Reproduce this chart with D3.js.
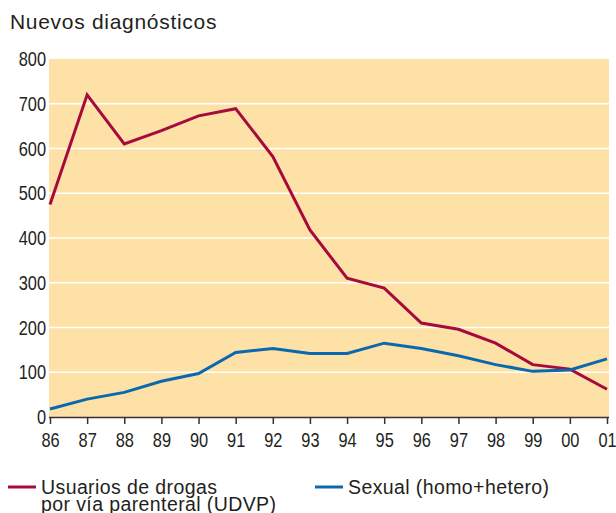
<!DOCTYPE html>
<html>
<head>
<meta charset="utf-8">
<script src="https://cdn.jsdelivr.net/npm/d3@7"></script>
<style>
  body { margin: 0; background: #fff; }
  svg { display: block; }
  text { fill: #231f20; }
</style>
</head>
<body>
<svg id="chart" width="616" height="513"></svg>
<script>
// years on the x axis
const years = ['86','87','88','89','90','91','92','93','94','95','96','97','98','99','00','01'];

// new diagnoses per transmission group
const udvp = [475, 720, 610, 640, 673, 689, 582, 418, 310, 288, 210, 196, 165, 117, 107, 62];
const sexual = [18, 40, 55, 80, 97, 144, 153, 142, 142, 165, 153, 137, 117, 102, 105, 130];

const yTicks = [0, 100, 200, 300, 400, 500, 600, 700, 800];

const title = 'Nuevos diagnósticos';
const series = [
    { name: ['Usuarios de drogas', 'por vía parenteral (UDVP)'], values: udvp, color: '#a50b3c' },
    { name: ['Sexual (homo+hetero)'], values: sexual, color: '#0a69ae' }
];

const svg = d3.select('#chart');
const plain = '"Liberation Sans", Arial, sans-serif';
const squeeze = 'scale(0.82,1)'; // fake a condensed face for the numbers

// plot box
const plotLeft = 49, plotRight = 609, plotTop = 59, plotBottom = 417;

const x = d3.scalePoint()
    .domain(years)
    .range([50, 607]);

const y = d3.scaleLinear()
    .domain([0, 800])
    .range([plotBottom, plotTop]);

// title
svg.append('text')
    .attr('x', 10)
    .attr('y', 29)
    .style('font-family', plain)
    .style('font-size', '21px')
    .style('letter-spacing', '0.7px')
    .text(title);

// background panel
svg.append('rect')
    .attr('x', plotLeft)
    .attr('y', plotTop)
    .attr('width', plotRight - plotLeft)
    .attr('height', plotBottom - plotTop)
    .attr('fill', '#fde1a6');

// white gridlines
svg.append('g')
    .selectAll('line')
    .data(yTicks.filter(function(d) { return d > 0 && d < 800; }))
    .join('line')
    .attr('x1', plotLeft)
    .attr('x2', plotRight)
    .attr('y1', function(d) { return y(d); })
    .attr('y2', function(d) { return y(d); })
    .attr('stroke', '#fff')
    .attr('stroke-width', 1.5);

// y labels
svg.append('g')
    .selectAll('text')
    .data(yTicks)
    .join('text')
    .attr('transform', function(d) { return 'translate(46,' + y(d) + ') ' + squeeze; })
    .attr('dy', '0.36em')
    .attr('text-anchor', 'end')
    .style('font-family', plain)
    .style('font-size', '20px')
    .text(function(d) { return d; });

// x axis
const xAxis = svg.append('g')
    .attr('transform', 'translate(0,' + plotBottom + ')')
    .call(d3.axisBottom(x).tickSize(7).tickPadding(9).tickSizeOuter(0));

xAxis.select('.domain')
    .attr('stroke', '#333')
    .attr('stroke-width', 1.5)
    .attr('d', 'M' + plotLeft + ',0.5H' + plotRight);
xAxis.selectAll('.tick line')
    .attr('stroke', '#333')
    .attr('stroke-width', 1.5);
xAxis.selectAll('.tick text')
    .attr('transform', squeeze)
    .style('font-family', plain)
    .style('font-size', '20px')
    .attr('fill', '#231f20');

// lines
const line = d3.line()
    .x(function(d, i) { return x(years[i]); })
    .y(function(d) { return y(d); });

svg.append('g')
    .selectAll('path')
    .data(series)
    .join('path')
    .attr('d', function(d) { return line(d.values); })
    .attr('fill', 'none')
    .attr('stroke', function(d) { return d.color; })
    .attr('stroke-width', 3)
    .attr('stroke-linejoin', 'miter');

// legend
const legendX = [8, 315];
const legend = svg.append('g')
    .selectAll('g')
    .data(series)
    .join('g')
    .attr('transform', function(d, i) { return 'translate(' + legendX[i] + ',487)'; });

legend.append('line')
    .attr('x1', 0)
    .attr('x2', 28)
    .attr('stroke', function(d) { return d.color; })
    .attr('stroke-width', 3);

legend.append('text')
    .style('font-family', plain)
    .style('font-size', '19.5px')
    .style('letter-spacing', '0.4px')
    .selectAll('tspan')
    .data(function(d) { return d.name; })
    .join('tspan')
    .attr('x', 33)
    .attr('y', function(d, i) { return 7 + i * 17; })
    .text(function(d) { return d; });
</script>
</body>
</html>
